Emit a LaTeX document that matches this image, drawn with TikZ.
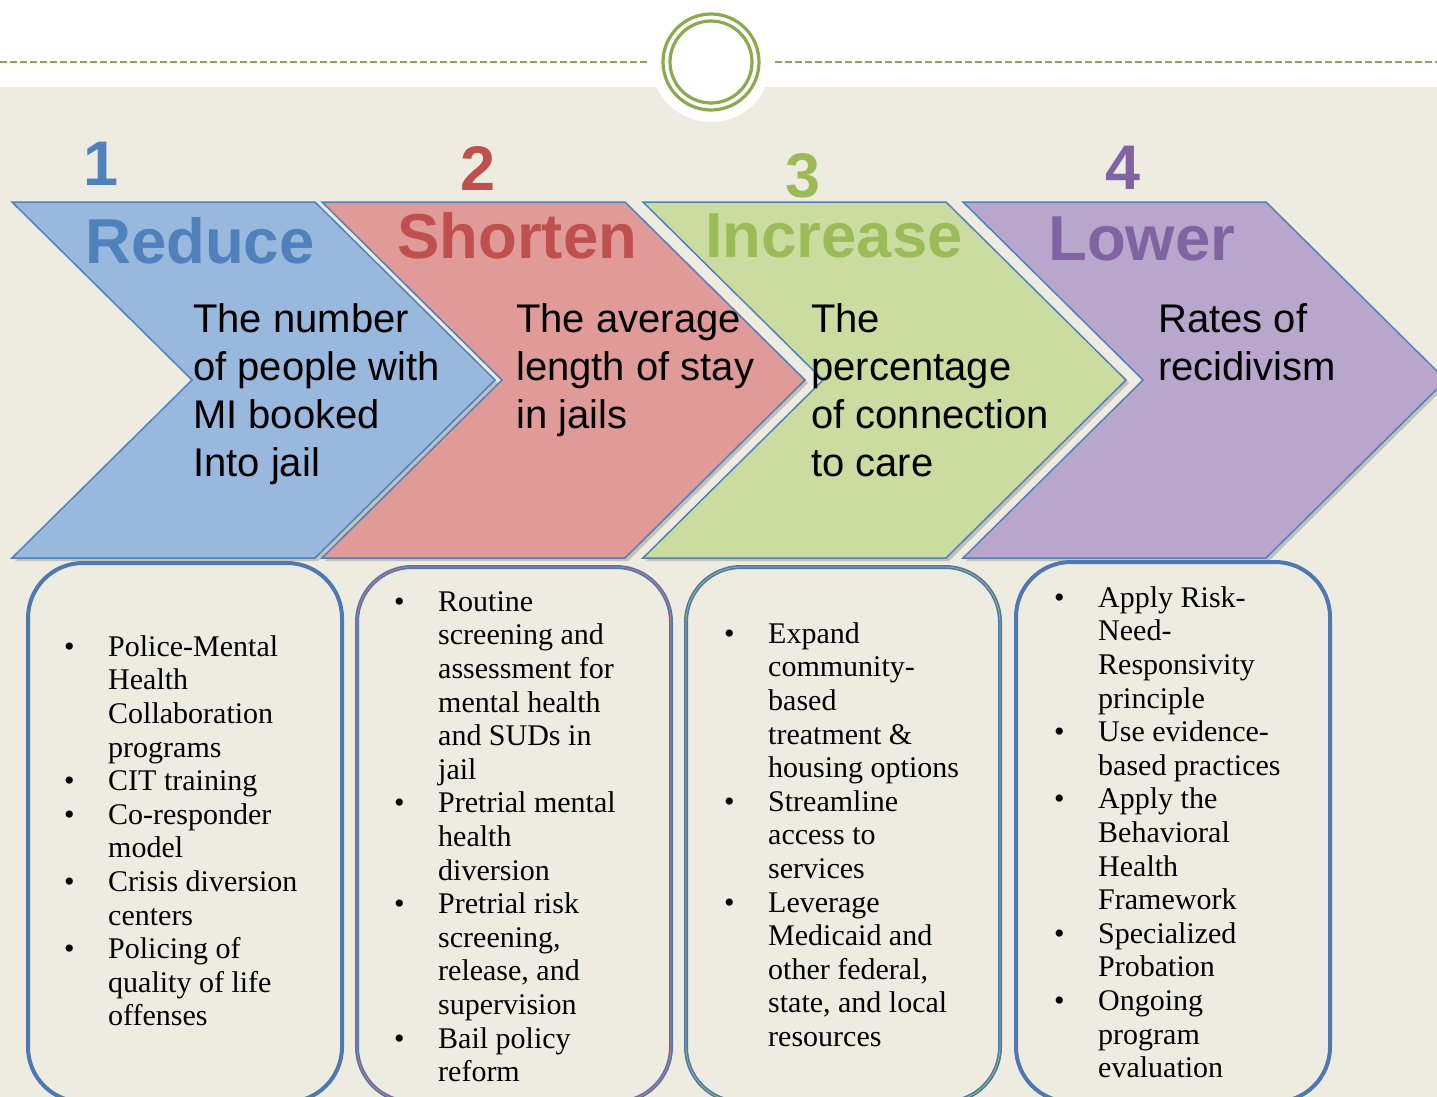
\documentclass[tikz,border=0pt]{standalone}
\usepackage{fontspec}
\setmainfont{Liberation Serif}
\setsansfont{Liberation Sans}
\usepackage{tikz}
\usetikzlibrary{positioning}

\definecolor{bgtan}{HTML}{EEECE1}
\definecolor{ringgreen}{HTML}{8BAA4E}
\definecolor{edgeblue}{HTML}{4F81BD}
\definecolor{panelblue}{HTML}{4E78B2}
\definecolor{blueF}{HTML}{99B8DE}
\definecolor{redF}{HTML}{E09A98}
\definecolor{greenF}{HTML}{CBDCA1}
\definecolor{purpleF}{HTML}{B9A6CC}
\definecolor{blueT}{HTML}{4F81BD}
\definecolor{redT}{HTML}{C0504D}
\definecolor{greenT}{HTML}{9BBB59}
\definecolor{purpleT}{HTML}{8064A2}

\newcommand{\itembul}{\strut\makebox[44pt][l]{\textbullet}}
\newcommand{\itemind}{\hspace*{44pt}}

\tikzset{%
    rule/.style={%
        draw=ringgreen,
        line width=1.6pt,
        dash pattern=on 7pt off 3pt,
    },
    ring/.style={%
        draw=ringgreen,
        line width=3.2pt,
    },
    chevron/.style={%
        draw=edgeblue,
        line width=1.5pt,
        line join=miter,
    },
    chevshadow/.style={%
        fill=black,
        opacity=0.18,
    },
    stepnum/.style={%
        font=\fontsize{63}{70}\selectfont\sffamily\bfseries,
        anchor=base,
        inner sep=0pt,
    },
    heading/.style={%
        font=\fontsize{63.5}{70}\selectfont\sffamily\bfseries,
        anchor=base west,
        inner sep=0pt,
    },
    goal/.style={%
        font=\fontsize{40}{48}\selectfont\sffamily,
        align=left,
        anchor=north west,
        inner sep=0pt,
    },
    panel/.style={%
        rectangle,
        draw=panelblue,
        line width=4pt,
        rounded corners=55pt,
        minimum width=314pt,
        anchor=north west,
        inner sep=0pt,
        outer sep=0pt,
    },
    actions/.style={%
        font=\fontsize{30}{33.6}\selectfont,
        align=left,
        anchor=north west,
        inner sep=0pt,
    },
}

\begin{document}
\begin{tikzpicture}[x=1pt, y=-1pt]
	\useasboundingbox (0,0) rectangle (1437,1097);

	% backdrop and top ornament
	\fill[white] (0,0) rectangle (1437,87);
	\fill[bgtan] (0,87) rectangle (1437,1097);
	\coordinate (ringc) at (711,62);
	\fill[white] (ringc) circle (60pt);
	\coordinate (ruleLa) at (0,62);
	\coordinate (ruleLb) at (647,62);
	\coordinate (ruleRa) at (775,62);
	\coordinate (ruleRb) at (1437,62);
	\draw[rule] (ruleLa) -- (ruleLb);
	\draw[rule] (ruleRa) -- (ruleRb);
	\draw[ring] (ringc) circle (48pt);
	\draw[ring] (ringc) circle (41pt);

	% the four chevrons
	\foreach \x/\col in {12/blueF, 322/redF, 643/greenF, 963/purpleF} {
		\fill[chevshadow] (\x+3,205) -- ++(303,0) -- ++(180,178) -- ++(-180,178)
			-- ++(-303,0) -- ++(180,-178) -- cycle;
		\draw[chevron, fill=\col] (\x,202) -- ++(303,0) -- ++(180,178) -- ++(-180,178)
			-- ++(-303,0) -- ++(180,-178) -- cycle;
	}

	\node[stepnum, text=blueT] (num1) at (101,185) {1};
	\node[stepnum, text=redT] (num2) at (478,190) {2};
	\node[stepnum, text=greenT] (num3) at (803,197) {3};
	\node[stepnum, text=purpleT] (num4) at (1123,189) {4};

	\node[heading, text=blueT] (head1) at (85,263) {Reduce};
	\node[heading, text=redT] (head2) at (397,258) {Shorten};
	\node[heading, text=greenT] (head3) at (705,257) {Increase};
	\node[heading, text=purpleT] (head4) at (1048,260) {Lower};

	\node[goal] (goal1) at (193,298.4) {\strut The number\\of people with\\MI booked\\Into jail};
	\node[goal] (goal2) at (516,298.4) {\strut The average\\length of stay\\in jails};
	\node[goal] (goal3) at (811,298.4) {\strut The\\percentage\\of connection\\to care};
	\node[goal] (goal4) at (1158,298.4) {\strut Rates of\\recidivism};

	% rounded panels with the actions
	\node[panel, minimum height=539pt] (panel1) at (28,563) {};
	\node[panel, minimum height=535pt, line width=1.6pt, double=redF!70!red, double distance=0.8pt] (panel2) at (357,567) {};
	\node[panel, minimum height=535pt, line width=1.6pt, double=greenT, double distance=0.8pt] (panel3) at (686,567) {};
	\node[panel, minimum height=540pt] (panel4) at (1016,562) {};

	\node[actions] (list1) at (64,632.5) {\itembul Police-Mental\\\itemind Health\\\itemind Collaboration\\\itemind programs\\
		\itembul CIT training\\\itembul Co-responder\\\itemind model\\\itembul Crisis diversion\\\itemind centers\\
		\itembul Policing of\\\itemind quality of life\\\itemind offenses};
	\node[actions] (list2) at (394,587.5) {\itembul Routine\\\itemind screening and\\\itemind assessment for\\\itemind mental health\\
		\itemind and SUDs in\\\itemind jail\\\itembul Pretrial mental\\\itemind health\\\itemind diversion\\
		\itembul Pretrial risk\\\itemind screening,\\\itemind release, and\\\itemind supervision\\
		\itembul Bail policy\\\itemind reform};
	\node[actions] (list3) at (724,619.5) {\itembul Expand\\\itemind community-\\\itemind based\\\itemind treatment \&\\
		\itemind housing options\\\itembul Streamline\\\itemind access to\\\itemind services\\
		\itembul Leverage\\\itemind Medicaid and\\\itemind other federal,\\\itemind state, and local\\\itemind resources};
	\node[actions] (list4) at (1054,583.5) {\itembul Apply Risk-\\\itemind Need-\\\itemind Responsivity\\\itemind principle\\
		\itembul Use evidence-\\\itemind based practices\\\itembul Apply the\\\itemind Behavioral\\\itemind Health\\
		\itemind Framework\\\itembul Specialized\\\itemind Probation\\\itembul Ongoing\\\itemind program\\\itemind evaluation};
\end{tikzpicture}
\end{document}
